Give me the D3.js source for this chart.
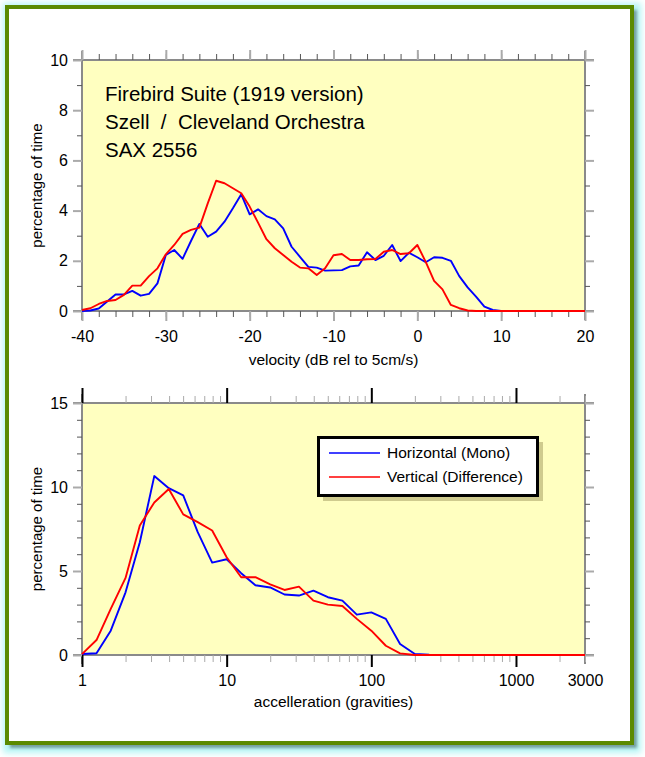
<!DOCTYPE html>
<html><head><meta charset="utf-8">
<script src="https://cdn.jsdelivr.net/npm/d3@7"></script>
<style>
html,body{margin:0;padding:0;background:#fff;}
text{font-family:"Liberation Sans",Arial,Helvetica,sans-serif;fill:#000;}
</style></head>
<body>
<svg id="c" width="645" height="757"></svg>
<script>
// ---------- DATA ----------
const velocity = [-40,-39,-38,-37,-36,-35,-34,-33,-32,-31,-30,-29,-28,-27,-26,-25,-24,-23,-22,-21,-20,-19,-18,-17,-16,-15,-14,-13,-12,-11,-10,-9,-8,-7,-6,-5,-4,-3,-2,-1,0,1,2,3,4,5,6,7,8,9,10,11,12,13,14,15,16,17,18,19,20];
const velHorizontal = [0,0.02,0.1,0.38,0.66,0.66,0.8,0.61,0.68,1.1,2.23,2.43,2.08,2.79,3.47,2.96,3.16,3.56,4.09,4.65,3.85,4.05,3.78,3.65,3.29,2.56,2.16,1.76,1.73,1.61,1.62,1.63,1.78,1.81,2.34,2.03,2.2,2.63,1.99,2.32,2.14,1.94,2.14,2.12,2.0,1.39,0.94,0.57,0.17,0.04,0,0,0,0,0,0,0,0,0,0,0];
const velVertical = [0.04,0.11,0.28,0.4,0.44,0.64,1.01,1.01,1.39,1.7,2.26,2.63,3.07,3.23,3.32,4.29,5.19,5.09,4.89,4.69,4.16,3.52,2.86,2.5,2.23,1.96,1.73,1.7,1.43,1.7,2.22,2.27,2.03,2.03,2.06,2.07,2.36,2.43,2.27,2.3,2.63,1.96,1.2,0.86,0.24,0.11,0.02,0,0,0,0,0,0,0,0,0,0,0,0,0,0];

const accel = [1,1.26,1.58,2,2.51,3.16,3.98,5.01,6.31,7.94,10,12.6,15.8,20,25.1,31.6,39.8,50.1,63.1,79.4,100,126,158,200,251,316,398,501,631,794,1000,1259,1585,1995,2512,3000];
const accHorizontal = [0.06,0.1,1.45,3.73,6.71,10.65,9.93,9.5,7.31,5.5,5.7,4.87,4.15,4.02,3.6,3.54,3.83,3.44,3.24,2.4,2.54,2.15,0.66,0.06,0.02,0,0,0,0,0,0,0,0,0,0,0];
const accVertical = [0.05,0.89,2.74,4.59,7.71,9.08,9.88,8.37,7.91,7.41,5.82,4.63,4.63,4.21,3.87,4.07,3.24,3.0,2.92,2.15,1.45,0.55,0.1,0,0,0,0,0,0,0,0,0,0,0,0,0];

const titleLines = ["Firebird Suite (1919 version)", "Szell  /  Cleveland Orchestra", "SAX 2556"];
const seriesNames = ["Horizontal (Mono)", "Vertical (Difference)"];
const velTickLabels = [-40,-30,-20,-10,0,10,20];
const velMinorTicks = [-40,-38,-36,-34,-32,-30,-28,-26,-24,-22,-20,-18,-16,-14,-12,-10,-8,-6,-4,-2,0,2,4,6,8,10,12,14,16,18,20];
const pctTopMajor = [0,2,4,6,8,10];
const pctTopMinor = [1,3,5,7,9];
const accTickLabels = [1,10,100,1000,3000];
const accMajor = [1,10,100,1000];
const accMinor = [2,3,4,5,6,7,8,9,20,30,40,50,60,70,80,90,200,300,400,500,600,700,800,900,2000,3000];
const pctBotMajor = [0,5,10,15];
const pctBotMinor = [1,2,3,4,6,7,8,9,11,12,13,14];
const xTitles = ["velocity (dB rel to 5cm/s)", "accelleration (gravities)"];
const yTitle = "percentage of time";
const colors = ["#0000ff", "#ff0000"];

// ---------- DRAW ----------
const svg = d3.select("#c");
const defs = svg.append("defs");
const f = defs.append("filter").attr("id","glow").attr("x","-5%").attr("y","-5%").attr("width","110%").attr("height","110%");
f.append("feGaussianBlur").attr("stdDeviation",3);
const f2 = defs.append("filter").attr("id","sh").attr("x","-5%").attr("y","-5%").attr("width","110%").attr("height","110%");
f2.append("feGaussianBlur").attr("stdDeviation",1.5);

// frame
svg.append("rect").attr("x",3).attr("y",3).attr("width",638).attr("height",750).attr("fill","#b4f4f4").attr("filter","url(#glow)");
svg.append("rect").attr("x",10).attr("y",10).attr("width",627).attr("height",738).attr("fill","#5a7a7a").attr("opacity",0.7).attr("filter","url(#sh)");
svg.append("rect").attr("x",7).attr("y",7).attr("width",625).attr("height",736).attr("fill","#fff").attr("stroke","#5b8a00").attr("stroke-width",4);

function panel(cfg){
  const g = svg.append("g");
  const [x0,x1] = cfg.x.range(), [y0,y1] = cfg.y.range(); // y0 bottom, y1 top
  g.append("rect").attr("x",x0).attr("y",y1).attr("width",x1-x0).attr("height",y0-y1).attr("fill","#ffffc0");
  const ext = 9;
  const al = g.append("g").attr("stroke","#8a8a8a").attr("stroke-width",2);
  al.append("line").attr("x1",x0-ext).attr("x2",x1+ext).attr("y1",y0).attr("y2",y0);
  al.append("line").attr("x1",x0-ext).attr("x2",x1+ext).attr("y1",y1).attr("y2",y1);
  al.append("line").attr("x1",x0).attr("x2",x0).attr("y1",y1-ext).attr("y2",y0+ext);
  al.append("line").attr("x1",x1).attr("x2",x1).attr("y1",y1-ext).attr("y2",y0+ext);

  function ax(fn, scale, vals, size, color, width, tr, labels){
    const a = fn(scale).tickValues(vals).tickSize(size).tickSizeOuter(0).tickPadding(6);
    if(labels) a.tickFormat(d => labels.includes(d) ? String(d) : ""); else a.tickFormat("");
    const gg = g.append("g").attr("transform",tr).call(a);
    gg.select(".domain").remove();
    gg.selectAll(".tick line").attr("stroke",color).attr("stroke-width",width);
    gg.selectAll(".tick text").attr("font-size",16).attr("font-family","Liberation Sans, Arial, sans-serif").attr("fill","#000");
    return gg;
  }
  ax(d3.axisBottom, cfg.x, cfg.xMinor, cfg.xMinorLen, cfg.xMinorColor, 1, `translate(0,${y0})`);
  ax(d3.axisBottom, cfg.x, cfg.xMajor, cfg.xMajorLenB, cfg.xMajorColor, cfg.xMajorW, `translate(0,${y0})`);
  const lab = ax(d3.axisBottom, cfg.x, cfg.xLabels, 0, "none", 0, `translate(0,${y0})`, cfg.xLabels);
  lab.selectAll(".tick text").attr("dy", null).attr("y", 31);
  ax(d3.axisTop, cfg.x, cfg.xMinor, cfg.xMinorLen, cfg.xMinorColor, 1, `translate(0,${y1})`);
  ax(d3.axisTop, cfg.x, cfg.xMajor, cfg.xMajorLenT, cfg.xMajorColor, cfg.xMajorW, `translate(0,${y1})`);
  ax(d3.axisLeft, cfg.y, cfg.yMinor, 5, "#555", 1, `translate(${x0},0)`);
  const yl = ax(d3.axisLeft, cfg.y, cfg.yMajor, 9, "#aaa", 2, `translate(${x0},0)`, cfg.yMajor);
  yl.selectAll(".tick text").attr("x",-14);
  ax(d3.axisRight, cfg.y, cfg.yMinor, 5, "#555", 1, `translate(${x1},0)`);
  ax(d3.axisRight, cfg.y, cfg.yMajor, 9, "#aaa", 2, `translate(${x1},0)`);

  const line = d3.line().x((d,i)=>cfg.x(cfg.xs[i])).y(d=>cfg.y(d));
  cfg.series.forEach((s,k)=>{
    g.append("path").datum(s).attr("d",line).attr("fill","none").attr("stroke",colors[k]).attr("stroke-width",1.9).attr("stroke-linejoin","round");
  });
  g.append("text").attr("x",(x0+x1)/2).attr("y",cfg.xTitleY).attr("text-anchor","middle").attr("font-size",15.5).text(cfg.xTitle);
  g.append("text").attr("transform",`translate(${cfg.yTitleX},${(y0+y1)/2}) rotate(-90)`).attr("text-anchor","middle").attr("font-size",15).text(yTitle);
  return g;
}

const xTop = d3.scaleLinear().domain([-40,20]).range([82,585]);
const yTop = d3.scaleLinear().domain([0,10]).range([311,60]);
const g1 = panel({x:xTop,y:yTop,xs:velocity,series:[velHorizontal,velVertical],
  xMinor:velMinorTicks,xMinorLen:6,xMinorColor:"#555",xMajor:velTickLabels,xMajorLenB:10,xMajorLenT:10,xMajorColor:"#aaa",xMajorW:2,
  xLabels:velTickLabels,yMajor:pctTopMajor,yMinor:pctTopMinor,xTitle:xTitles[0],xTitleY:365,yTitleX:42});

const xBot = d3.scaleLog().domain([1,3000]).range([82,585]);
const yBot = d3.scaleLinear().domain([0,15]).range([655,403]);
const g2 = panel({x:xBot,y:yBot,xs:accel,series:[accHorizontal,accVertical],
  xMinor:accMinor,xMinorLen:7,xMinorColor:"#aaa",xMajor:accMajor,xMajorLenB:12,xMajorLenT:15,xMajorColor:"#000",xMajorW:2,
  xLabels:accTickLabels,yMajor:pctBotMajor,yMinor:pctBotMinor,xTitle:xTitles[1],xTitleY:707,yTitleX:42});

titleLines.forEach((t,i)=>{
  g1.append("text").attr("x",105).attr("y",101+i*28).attr("font-size",20.5).attr("xml:space","preserve").style("white-space","pre").text(t);
});

const lg = svg.append("g");
lg.append("rect").attr("x",323).attr("y",442).attr("width",220).attr("height",59).attr("fill","#cfcb8e");
lg.append("rect").attr("x",318.5).attr("y",437.5).attr("width",219).attr("height",58).attr("fill","#fff").attr("stroke","#000").attr("stroke-width",3);
seriesNames.forEach((n,k)=>{
  const y = 453 + k*24;
  lg.append("line").attr("x1",329).attr("x2",380).attr("y1",y).attr("y2",y).attr("stroke",colors[k]).attr("stroke-width",1.5);
  lg.append("text").attr("x",387).attr("y",y+5).attr("font-size",15.5).text(n);
});
</script>
</body></html>
